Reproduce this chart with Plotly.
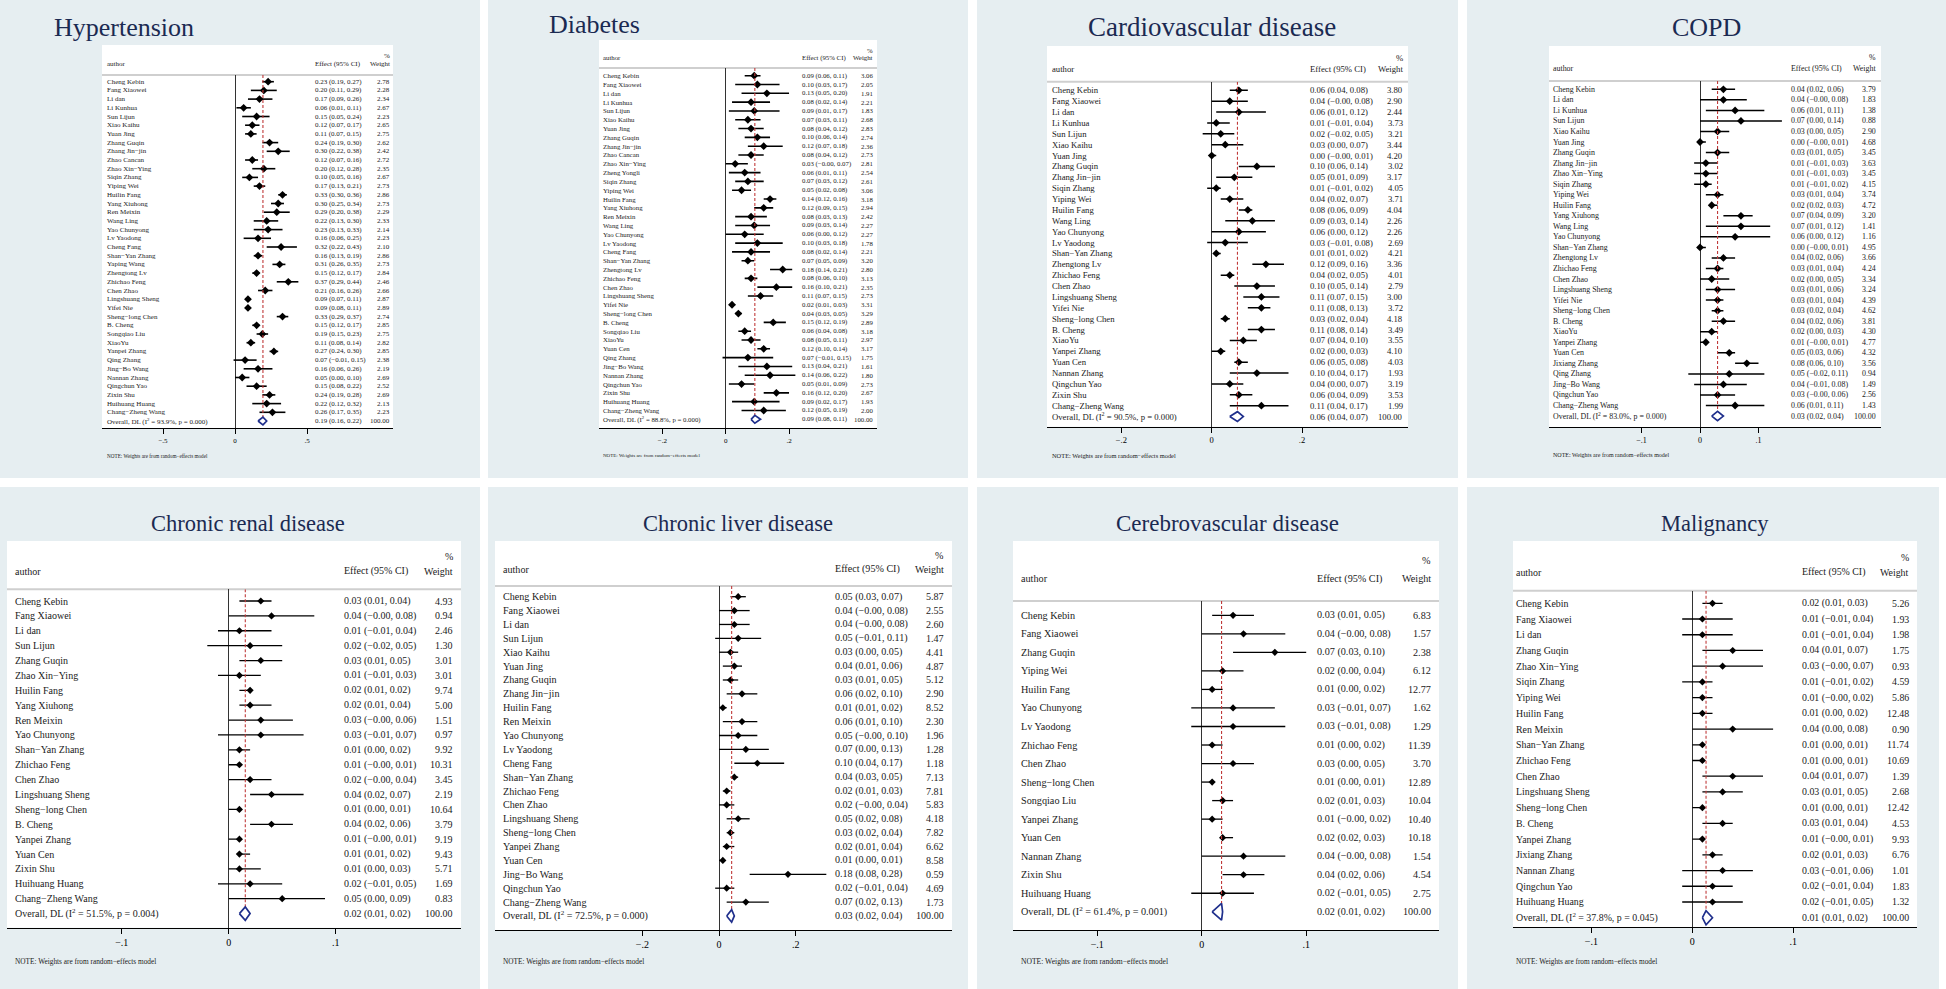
import plotly.graph_objects as go

W, H = 1946, 989
SERIF = "Liberation Serif, Times New Roman, serif"
BG = "#e6eef1"
TITLE_C = "#1b2a52"
DIAMOND_C = "#1f2f8c"
RED = "#c03a3a"
TXT = "#1a1a1a"

# ---------------- data: Hypertension ----------------
HYP_AUTHOR = ["Cheng Kebin", "Fang Xiaowei", "Li dan", "Li Kunhua", "Sun Lijun", "Xiao Kaihu", "Yuan Jing",
              "Zhang Guqin", "Zhang Jin−jin", "Zhao Cancan", "Zhao Xin−Ying", "Siqin Zhang", "Yiping Wei",
              "Huilin Fang", "Yang Xiuhong", "Ren Meixin", "Wang Ling", "Yao Chunyong", "Lv Yaodong",
              "Cheng Fang", "Shan−Yan Zhang", "Yaping Wang", "Zhengtong Lv", "Zhichao Feng", "Chen Zhao",
              "Lingshuang Sheng", "Yifei Nie", "Sheng−long Chen", "B. Cheng", "Songqiao Liu", "XiaoYu",
              "Yanpei Zhang", "Qing Zhang", "Jing−Bo Wang", "Nannan Zhang", "Qingchun Yao", "Zixin Shu",
              "Huihuang Huang", "Chang−Zheng Wang"]
HYP_EST = [0.23, 0.20, 0.17, 0.06, 0.15, 0.12, 0.11, 0.24, 0.30, 0.12, 0.20, 0.10, 0.17, 0.33, 0.30, 0.29,
           0.22, 0.23, 0.16, 0.32, 0.16, 0.31, 0.15, 0.37, 0.21, 0.09, 0.09, 0.33, 0.15, 0.19, 0.11, 0.27,
           0.07, 0.16, 0.05, 0.15, 0.24, 0.22, 0.26]
HYP_LO = [0.19, 0.11, 0.09, 0.01, 0.05, 0.07, 0.07, 0.19, 0.22, 0.07, 0.12, 0.05, 0.13, 0.30, 0.25, 0.20,
          0.13, 0.13, 0.06, 0.22, 0.13, 0.26, 0.12, 0.29, 0.16, 0.07, 0.08, 0.29, 0.12, 0.15, 0.08, 0.24,
          -0.01, 0.06, 0.00, 0.08, 0.19, 0.12, 0.17]
HYP_HI = [0.27, 0.29, 0.26, 0.11, 0.24, 0.17, 0.15, 0.30, 0.38, 0.16, 0.28, 0.16, 0.21, 0.36, 0.34, 0.38,
          0.30, 0.33, 0.25, 0.43, 0.19, 0.35, 0.17, 0.44, 0.26, 0.11, 0.11, 0.37, 0.17, 0.23, 0.14, 0.30,
          0.15, 0.26, 0.10, 0.22, 0.28, 0.32, 0.35]
HYP_WT = [2.78, 2.28, 2.34, 2.67, 2.23, 2.65, 2.75, 2.62, 2.42, 2.72, 2.35, 2.67, 2.73, 2.86, 2.73, 2.29,
          2.33, 2.14, 2.23, 2.10, 2.86, 2.73, 2.84, 2.46, 2.66, 2.87, 2.89, 2.74, 2.85, 2.75, 2.82, 2.85,
          2.38, 2.19, 2.69, 2.52, 2.69, 2.13, 2.23]
HYP_OVERALL = [0.194, 0.16, 0.22]
HYP_HET = [93.9, 0.000]

# ---------------- data: Diabetes ----------------
DIA_AUTHOR = ["Cheng Kebin", "Fang Xiaowei", "Li dan", "Li Kunhua", "Sun Lijun", "Xiao Kaihu", "Yuan Jing",
              "Zhang Guqin", "Zhang Jin−jin", "Zhao Cancan", "Zhao Xin−Ying", "Zheng Yongli", "Siqin Zhang",
              "Yiping Wei", "Huilin Fang", "Yang Xiuhong", "Ren Meixin", "Wang Ling", "Yao Chunyong",
              "Lv Yaodong", "Cheng Fang", "Shan−Yan Zhang", "Zhengtong Lv", "Zhichao Feng", "Chen Zhao",
              "Lingshuang Sheng", "Yifei Nie", "Sheng−long Chen", "B. Cheng", "Songqiao Liu", "XiaoYu",
              "Yuan Cen", "Qing Zhang", "Jing−Bo Wang", "Nannan Zhang", "Qingchun Yao", "Zixin Shu",
              "Huihuang Huang", "Chang−Zheng Wang"]
DIA_EST = [0.09, 0.10, 0.13, 0.08, 0.09, 0.07, 0.08, 0.10, 0.12, 0.08, 0.03, 0.06, 0.07, 0.05, 0.14, 0.12,
           0.08, 0.09, 0.06, 0.10, 0.08, 0.07, 0.18, 0.08, 0.16, 0.11, 0.02, 0.04, 0.15, 0.06, 0.08, 0.12,
           0.07, 0.13, 0.14, 0.05, 0.16, 0.09, 0.12]
DIA_LO = [0.06, 0.03, 0.05, 0.02, 0.01, 0.03, 0.04, 0.06, 0.07, 0.04, -0.00, 0.01, 0.03, 0.02, 0.12, 0.09,
          0.03, 0.03, 0.00, 0.03, 0.02, 0.05, 0.14, 0.06, 0.10, 0.07, 0.01, 0.03, 0.12, 0.04, 0.05, 0.10,
          -0.01, 0.04, 0.06, 0.01, 0.12, 0.02, 0.05]
DIA_HI = [0.11, 0.17, 0.20, 0.14, 0.17, 0.11, 0.12, 0.14, 0.18, 0.12, 0.07, 0.11, 0.12, 0.08, 0.16, 0.15,
          0.13, 0.14, 0.12, 0.18, 0.14, 0.09, 0.21, 0.10, 0.21, 0.15, 0.03, 0.05, 0.19, 0.08, 0.11, 0.14,
          0.15, 0.21, 0.22, 0.09, 0.20, 0.17, 0.19]
DIA_WT = [3.06, 2.05, 1.91, 2.21, 1.83, 2.68, 2.83, 2.74, 2.36, 2.73, 2.81, 2.54, 2.61, 3.06, 3.18, 2.94,
          2.42, 2.27, 2.27, 1.78, 2.21, 3.20, 2.80, 3.13, 2.35, 2.73, 3.31, 3.29, 2.89, 3.18, 2.97, 3.17,
          1.75, 1.61, 1.80, 2.73, 2.67, 1.93, 2.00]
DIA_OVERALL = [0.092, 0.08, 0.11]
DIA_HET = [88.8, 0.000]

# ---------------- data: Cardiovascular disease ----------------
CVD_AUTHOR = ["Cheng Kebin", "Fang Xiaowei", "Li dan", "Li Kunhua", "Sun Lijun", "Xiao Kaihu", "Yuan Jing",
              "Zhang Guqin", "Zhang Jin−jin", "Siqin Zhang", "Yiping Wei", "Huilin Fang", "Wang Ling",
              "Yao Chunyong", "Lv Yaodong", "Shan−Yan Zhang", "Zhengtong Lv", "Zhichao Feng", "Chen Zhao",
              "Lingshuang Sheng", "Yifei Nie", "Sheng−long Chen", "B. Cheng", "XiaoYu", "Yanpei Zhang",
              "Yuan Cen", "Nannan Zhang", "Qingchun Yao", "Zixin Shu", "Chang−Zheng Wang"]
CVD_EST = [0.06, 0.04, 0.06, 0.01, 0.02, 0.03, 0.00, 0.10, 0.05, 0.01, 0.04, 0.08, 0.09, 0.06, 0.03, 0.01,
           0.12, 0.04, 0.10, 0.11, 0.11, 0.03, 0.11, 0.07, 0.02, 0.06, 0.10, 0.04, 0.06, 0.11]
CVD_LO = [0.04, -0.00, 0.01, -0.01, -0.02, 0.00, -0.00, 0.06, 0.01, -0.01, 0.02, 0.06, 0.03, 0.00, -0.01,
          0.01, 0.09, 0.02, 0.05, 0.07, 0.08, 0.02, 0.08, 0.04, 0.00, 0.05, 0.04, 0.00, 0.04, 0.04]
CVD_HI = [0.08, 0.08, 0.12, 0.04, 0.05, 0.07, 0.01, 0.14, 0.09, 0.02, 0.07, 0.09, 0.14, 0.12, 0.08, 0.02,
          0.16, 0.05, 0.14, 0.15, 0.13, 0.04, 0.14, 0.10, 0.03, 0.08, 0.17, 0.07, 0.09, 0.17]
CVD_WT = [3.80, 2.90, 2.44, 3.73, 3.21, 3.44, 4.20, 3.02, 3.17, 4.05, 3.71, 4.04, 2.26, 2.26, 2.69, 4.21,
          3.36, 4.01, 2.79, 3.00, 3.72, 4.18, 3.49, 3.55, 4.10, 4.03, 1.93, 3.19, 3.53, 1.99]
CVD_OVERALL = [0.057, 0.04, 0.07]
CVD_HET = [90.5, 0.000]

# ---------------- data: COPD ----------------
COPD_AUTHOR = ["Cheng Kebin", "Li dan", "Li Kunhua", "Sun Lijun", "Xiao Kaihu", "Yuan Jing", "Zhang Guqin",
               "Zhang Jin−jin", "Zhao Xin−Ying", "Siqin Zhang", "Yiping Wei", "Huilin Fang", "Yang Xiuhong",
               "Wang Ling", "Yao Chunyong", "Shan−Yan Zhang", "Zhengtong Lv", "Zhichao Feng", "Chen Zhao",
               "Lingshuang Sheng", "Yifei Nie", "Sheng−long Chen", "B. Cheng", "XiaoYu", "Yanpei Zhang",
               "Yuan Cen", "Jixiang Zhang", "Qing Zhang", "Jing−Bo Wang", "Qingchun Yao", "Chang−Zheng Wang"]
COPD_EST = [0.04, 0.04, 0.06, 0.07, 0.03, 0.00, 0.03, 0.01, 0.01, 0.01, 0.03, 0.02, 0.07, 0.07, 0.06, 0.00,
            0.04, 0.03, 0.02, 0.03, 0.03, 0.03, 0.04, 0.02, 0.01, 0.05, 0.08, 0.05, 0.04, 0.03, 0.06]
COPD_LO = [0.02, -0.00, 0.01, 0.00, 0.00, -0.00, 0.01, -0.01, -0.01, -0.01, 0.01, 0.02, 0.04, 0.01, 0.00,
           -0.00, 0.02, 0.01, 0.00, 0.01, 0.01, 0.02, 0.02, 0.00, -0.00, 0.03, 0.06, -0.02, -0.01, -0.00, 0.01]
COPD_HI = [0.06, 0.08, 0.11, 0.14, 0.05, 0.01, 0.05, 0.03, 0.03, 0.02, 0.04, 0.03, 0.09, 0.12, 0.12, 0.01,
           0.06, 0.04, 0.05, 0.06, 0.04, 0.04, 0.06, 0.03, 0.01, 0.06, 0.10, 0.11, 0.08, 0.06, 0.11]
COPD_WT = [3.79, 1.83, 1.38, 0.88, 2.90, 4.68, 3.45, 3.63, 3.45, 4.15, 3.74, 4.72, 3.20, 1.41, 1.16, 4.95,
           3.66, 4.24, 3.34, 3.24, 4.39, 4.62, 3.81, 4.30, 4.77, 4.32, 3.56, 0.94, 1.49, 2.56, 1.43]
COPD_OVERALL = [0.030, 0.02, 0.04]
COPD_HET = [83.0, 0.000]

# ---------------- data: Chronic renal disease ----------------
REN_AUTHOR = ["Cheng Kebin", "Fang Xiaowei", "Li dan", "Sun Lijun", "Zhang Guqin", "Zhao Xin−Ying",
              "Huilin Fang", "Yang Xiuhong", "Ren Meixin", "Yao Chunyong", "Shan−Yan Zhang", "Zhichao Feng",
              "Chen Zhao", "Lingshuang Sheng", "Sheng−long Chen", "B. Cheng", "Yanpei Zhang", "Yuan Cen",
              "Zixin Shu", "Huihuang Huang", "Chang−Zheng Wang"]
REN_EST = [0.03, 0.04, 0.01, 0.02, 0.03, 0.01, 0.02, 0.02, 0.03, 0.03, 0.01, 0.01, 0.02, 0.04, 0.01, 0.04,
           0.01, 0.01, 0.01, 0.02, 0.05]
REN_LO = [0.01, -0.00, -0.01, -0.02, 0.01, -0.01, 0.01, 0.01, -0.00, -0.01, 0.00, -0.00, -0.00, 0.02, 0.00,
          0.02, -0.00, 0.01, 0.00, -0.01, 0.00]
REN_HI = [0.04, 0.08, 0.04, 0.05, 0.05, 0.03, 0.02, 0.04, 0.06, 0.07, 0.02, 0.01, 0.04, 0.07, 0.01, 0.06,
          0.01, 0.02, 0.03, 0.05, 0.09]
REN_WT = [4.93, 0.94, 2.46, 1.30, 3.01, 3.01, 9.74, 5.00, 1.51, 0.97, 9.92, 10.31, 3.45, 2.19, 10.64, 3.79,
          9.19, 9.43, 5.71, 1.69, 0.83]
REN_OVERALL = [0.0155, 0.01, 0.02]
REN_HET = [51.5, 0.004]

# ---------------- data: Chronic liver disease ----------------
LIV_AUTHOR = ["Cheng Kebin", "Fang Xiaowei", "Li dan", "Sun Lijun", "Xiao Kaihu", "Yuan Jing", "Zhang Guqin",
              "Zhang Jin−jin", "Huilin Fang", "Ren Meixin", "Yao Chunyong", "Lv Yaodong", "Cheng Fang",
              "Shan−Yan Zhang", "Zhichao Feng", "Chen Zhao", "Lingshuang Sheng", "Sheng−long Chen",
              "Yanpei Zhang", "Yuan Cen", "Jing−Bo Wang", "Qingchun Yao", "Chang−Zheng Wang"]
LIV_EST = [0.05, 0.04, 0.04, 0.05, 0.03, 0.04, 0.03, 0.06, 0.01, 0.06, 0.05, 0.07, 0.10, 0.04, 0.02, 0.02,
           0.05, 0.03, 0.02, 0.01, 0.18, 0.02, 0.07]
LIV_LO = [0.03, -0.00, -0.00, -0.01, 0.00, 0.01, 0.01, 0.02, 0.01, 0.01, -0.00, 0.00, 0.04, 0.03, 0.01,
          -0.00, 0.02, 0.02, 0.01, 0.00, 0.08, -0.01, 0.02]
LIV_HI = [0.07, 0.08, 0.08, 0.11, 0.05, 0.06, 0.05, 0.10, 0.02, 0.10, 0.10, 0.13, 0.17, 0.05, 0.03, 0.04,
          0.08, 0.04, 0.04, 0.01, 0.28, 0.04, 0.13]
LIV_WT = [5.87, 2.55, 2.60, 1.47, 4.41, 4.87, 5.12, 2.90, 8.52, 2.30, 1.96, 1.28, 1.18, 7.13, 7.81, 5.83,
          4.18, 7.82, 6.62, 8.58, 0.59, 4.69, 1.73]
LIV_OVERALL = [0.033, 0.02, 0.04]
LIV_HET = [72.5, 0.000]

# ---------------- data: Cerebrovascular disease ----------------
CER_AUTHOR = ["Cheng Kebin", "Fang Xiaowei", "Zhang Guqin", "Yiping Wei", "Huilin Fang", "Yao Chunyong",
              "Lv Yaodong", "Zhichao Feng", "Chen Zhao", "Sheng−long Chen", "Songqiao Liu", "Yanpei Zhang",
              "Yuan Cen", "Nannan Zhang", "Zixin Shu", "Huihuang Huang"]
CER_EST = [0.03, 0.04, 0.07, 0.02, 0.01, 0.03, 0.03, 0.01, 0.03, 0.01, 0.02, 0.01, 0.02, 0.04, 0.04, 0.02]
CER_LO = [0.01, -0.00, 0.03, 0.00, 0.00, -0.01, -0.01, 0.00, 0.00, 0.00, 0.01, -0.00, 0.02, -0.00, 0.02, -0.01]
CER_HI = [0.05, 0.08, 0.10, 0.04, 0.02, 0.07, 0.08, 0.02, 0.05, 0.01, 0.03, 0.02, 0.03, 0.08, 0.06, 0.05]
CER_WT = [6.83, 1.57, 2.38, 6.12, 12.77, 1.62, 1.29, 11.39, 3.70, 12.89, 10.04, 10.40, 10.18, 1.54, 4.54, 2.75]
CER_OVERALL = [0.019, 0.01, 0.02]
CER_HET = [61.4, 0.001]

# ---------------- data: Malignancy ----------------
MAL_AUTHOR = ["Cheng Kebin", "Fang Xiaowei", "Li dan", "Zhang Guqin", "Zhao Xin−Ying", "Siqin Zhang",
              "Yiping Wei", "Huilin Fang", "Ren Meixin", "Shan−Yan Zhang", "Zhichao Feng", "Chen Zhao",
              "Lingshuang Sheng", "Sheng−long Chen", "B. Cheng", "Yanpei Zhang", "Jixiang Zhang",
              "Nannan Zhang", "Qingchun Yao", "Huihuang Huang"]
MAL_EST = [0.02, 0.01, 0.01, 0.04, 0.03, 0.01, 0.01, 0.01, 0.04, 0.01, 0.01, 0.04, 0.03, 0.01, 0.03, 0.01,
           0.02, 0.03, 0.02, 0.02]
MAL_LO = [0.01, -0.01, -0.01, 0.01, -0.00, -0.01, -0.00, 0.00, 0.00, 0.00, 0.00, 0.01, 0.01, 0.00, 0.01,
          -0.00, 0.01, -0.01, -0.01, -0.01]
MAL_HI = [0.03, 0.04, 0.04, 0.07, 0.07, 0.02, 0.02, 0.02, 0.08, 0.01, 0.01, 0.07, 0.05, 0.01, 0.04, 0.01,
          0.03, 0.06, 0.04, 0.05]
MAL_WT = [5.26, 1.93, 1.98, 1.75, 0.93, 4.59, 5.86, 12.48, 0.90, 11.74, 10.69, 1.39, 2.68, 12.42, 4.53, 9.93,
          6.76, 1.01, 1.83, 1.32]
MAL_OVERALL = [0.0136, 0.01, 0.02]
MAL_HET = [37.8, 0.045]

# --- geometry of each Stata panel (pixel positions measured on the page)
PANELS = [
    dict(title="Hypertension", data=(HYP_AUTHOR, HYP_EST, HYP_LO, HYP_HI, HYP_WT, HYP_OVERALL, HYP_HET),
         box=(0, 0, 480, 478), white=(102, 45, 393), head=75, axis=428, row0=81.7, pitch=8.7,
         x0=235, scale=144, ticks=[-0.5, 0, 0.5], ticktext=["−.5", "0", ".5"],
         tx=124, ty=27, tfs=26, fs=7.0, hy=64, pcty=56, ax=107, ex=315, wx=390, ny=456, nfs=5.2,
         tickfs=7, ms=6, ciw=1.6),
    dict(title="Diabetes", data=(DIA_AUTHOR, DIA_EST, DIA_LO, DIA_HI, DIA_WT, DIA_OVERALL, DIA_HET),
         box=(488, 0, 968, 478), white=(599, 40, 877), head=68, axis=428.3, row0=75.7, pitch=8.81,
         x0=725.7, scale=316.7, ticks=[-0.2, 0, 0.2], ticktext=["−.2", "0", ".2"],
         tx=594, ty=25, tfs=26, fs=6.8, hy=58, pcty=50, ax=603, ex=801.7, wx=872.7, ny=455.7, nfs=5.0,
         tickfs=7, ms=6, ciw=1.6),
    dict(title="Cardiovascular disease", data=(CVD_AUTHOR, CVD_EST, CVD_LO, CVD_HI, CVD_WT, CVD_OVERALL, CVD_HET),
         box=(977, 0, 1458, 478), white=(1047, 46, 1408), head=81.7, axis=426.7, row0=90.3, pitch=10.875,
         x0=1211.7, scale=451.7, ticks=[-0.2, 0, 0.2], ticktext=["−.2", "0", ".2"],
         tx=1212, ty=27, tfs=27, fs=8.7, hy=69, pcty=57.7, ax=1051.7, ex=1310, wx=1403.3, ny=455, nfs=6.4,
         tickfs=8.5, ms=6, ciw=1.5),
    dict(title="COPD", data=(COPD_AUTHOR, COPD_EST, COPD_LO, COPD_HI, COPD_WT, COPD_OVERALL, COPD_HET),
         box=(1467, 0, 1946, 478), white=(1549, 46, 1881), head=81, axis=427.3, row0=89.3, pitch=10.54,
         x0=1700, scale=585, ticks=[-0.1, 0, 0.1], ticktext=["−.1", "0", ".1"],
         tx=1706, ty=27, tfs=26, fs=7.9, hy=68.3, pcty=57.7, ax=1552.7, ex=1790.7, wx=1876, ny=455, nfs=6.0,
         tickfs=8, ms=6, ciw=1.5),
    dict(title="Chronic renal disease", data=(REN_AUTHOR, REN_EST, REN_LO, REN_HI, REN_WT, REN_OVERALL, REN_HET),
         box=(0, 487, 480, 989), white=(7, 541, 461), head=589.3, axis=927.7, row0=601, pitch=14.885,
         x0=228.7, scale=1070, ticks=[-0.1, 0, 0.1], ticktext=["−.1", "0", ".1"],
         tx=247.5, ty=523, tfs=22.5, fs=10, hy=571, pcty=556, ax=15, ex=344.3, wx=453.3, ny=961.3, nfs=7.3,
         tickfs=10, ms=5.5, ciw=1.3),
    dict(title="Chronic liver disease", data=(LIV_AUTHOR, LIV_EST, LIV_LO, LIV_HI, LIV_WT, LIV_OVERALL, LIV_HET),
         box=(488, 487, 968, 989), white=(495, 541, 952), head=586, axis=930, row0=596.7, pitch=13.88,
         x0=719, scale=383.3, ticks=[-0.2, 0, 0.2], ticktext=["−.2", "0", ".2"],
         tx=738, ty=523, tfs=22.5, fs=10.1, hy=569.3, pcty=555, ax=503, ex=835, wx=944, ny=961.7, nfs=7.3,
         tickfs=10, ms=5.5, ciw=1.3),
    dict(title="Cerebrovascular disease", data=(CER_AUTHOR, CER_EST, CER_LO, CER_HI, CER_WT, CER_OVERALL, CER_HET),
         box=(977, 487, 1458, 989), white=(1013, 541, 1439), head=601, axis=930, row0=615.3, pitch=18.53,
         x0=1201.7, scale=1045, ticks=[-0.1, 0, 0.1], ticktext=["−.1", "0", ".1"],
         tx=1227.5, ty=523, tfs=23, fs=10.2, hy=578.7, pcty=560, ax=1020.7, ex=1316.7, wx=1430.7, ny=961.7,
         nfs=7.6, tickfs=10, ms=5.5, ciw=1.3),
    dict(title="Malignancy", data=(MAL_AUTHOR, MAL_EST, MAL_LO, MAL_HI, MAL_WT, MAL_OVERALL, MAL_HET),
         box=(1467, 487, 1939, 989), white=(1513, 541, 1917), head=590.7, axis=927.3, row0=603.3, pitch=15.72,
         x0=1692.3, scale=1010, ticks=[-0.1, 0, 0.1], ticktext=["−.1", "0", ".1"],
         tx=1714.8, ty=523, tfs=22.5, fs=9.9, hy=572.3, pcty=557.3, ax=1516, ex=1801.7, wx=1909, ny=961.7,
         nfs=7.3, tickfs=10, ms=5.5, ciw=1.3),
]


def fx(px):
    return px / W


def fy(py):
    return 1 - py / H


def fmt(v):
    return f"{v:.2f}".replace("-", "−")


fig = go.Figure()
shapes, annos, axes = [], [], {}

for i, p in enumerate(PANELS):
    n = "" if i == 0 else str(i + 1)
    xref, yref = "x" + n, "y" + n
    names, est, lo, hi, wt, overall, het = p["data"]
    N = len(est)
    rows = list(range(1, N + 1))
    r_ov = N + 1
    ov, ov_lo, ov_hi = overall
    L, T, R = p["white"]
    v_bot = 1 + (p["axis"] - p["row0"]) / p["pitch"]
    v_top = 1 + (p["head"] - p["row0"]) / p["pitch"]

    # --- panel background, white plot region, header rule
    bx0, by0, bx1, by1 = p["box"]
    shapes.append(dict(type="rect", xref="paper", yref="paper", x0=fx(bx0), x1=fx(bx1), y0=fy(by1), y1=fy(by0),
                       fillcolor=BG, line_width=0, layer="below"))
    shapes.append(dict(type="rect", xref="paper", yref="paper", x0=fx(L), x1=fx(R), y0=fy(p["axis"]), y1=fy(T),
                       fillcolor="white", line_width=0, layer="below"))
    shapes.append(dict(type="line", xref="paper", yref="paper", x0=fx(L), x1=fx(R), y0=fy(p["head"]),
                       y1=fy(p["head"]), line=dict(color="#cfcfcf", width=2), layer="below"))

    # --- confidence intervals
    xs, ys = [], []
    for a, b, r in zip(lo, hi, rows):
        xs += [a, b, None]
        ys += [r, r, None]
    fig.add_trace(go.Scatter(x=xs, y=ys, mode="lines", line=dict(color="black", width=p["ciw"]),
                             xaxis=xref, yaxis=yref, hoverinfo="skip", showlegend=False))
    # --- point estimates
    fig.add_trace(go.Scatter(x=est, y=rows, mode="markers", text=names,
                             marker=dict(symbol="diamond", size=p["ms"], color="black"),
                             xaxis=xref, yaxis=yref, showlegend=False))
    # --- overall line + diamond
    fig.add_trace(go.Scatter(x=[ov, ov], y=[v_top, r_ov - 0.45], mode="lines",
                             line=dict(color=RED, width=1.1, dash="3px,2px"),
                             xaxis=xref, yaxis=yref, hoverinfo="skip", showlegend=False))
    fig.add_trace(go.Scatter(x=[ov_lo, ov, ov_hi, ov, ov_lo], y=[r_ov, r_ov - 0.45, r_ov, r_ov + 0.45, r_ov],
                             mode="lines", line=dict(color=DIAMOND_C, width=1.7),
                             xaxis=xref, yaxis=yref, hoverinfo="skip", showlegend=False))

    axes["xaxis" + n] = dict(domain=[fx(L), fx(R)], range=[(L - p["x0"]) / p["scale"], (R - p["x0"]) / p["scale"]],
                             anchor=yref, showline=True, linecolor="black", linewidth=1.3,
                             ticks="outside", ticklen=5, tickwidth=1.3, tickcolor="black",
                             tickvals=p["ticks"], ticktext=p["ticktext"],
                             tickfont=dict(family=SERIF, size=p["tickfs"], color="black"),
                             showgrid=False, zeroline=True, zerolinecolor="#333333", zerolinewidth=1.3,
                             fixedrange=True)
    axes["yaxis" + n] = dict(domain=[fy(p["axis"]), fy(p["head"])], range=[v_bot, v_top], anchor=xref,
                             visible=False, fixedrange=True)

    font = dict(family=SERIF, size=p["fs"], color=TXT)
    base = dict(showarrow=False, borderpad=0, borderwidth=0, yanchor="middle", font=font)

    # --- title, header, note
    annos.append(dict(base, x=fx(p["tx"]), y=fy(p["ty"]), xref="paper", yref="paper", xanchor="center",
                      text=p["title"], font=dict(family=SERIF, size=p["tfs"], color=TITLE_C)))
    annos.append(dict(base, x=fx(p["ax"]), y=fy(p["hy"]), xref="paper", yref="paper", xanchor="left", text="author"))
    annos.append(dict(base, x=fx(p["ex"]), y=fy(p["hy"]), xref="paper", yref="paper", xanchor="left",
                      text="Effect (95% CI)"))
    annos.append(dict(base, x=fx(p["wx"]), y=fy(p["hy"]), xref="paper", yref="paper", xanchor="right", text="Weight"))
    annos.append(dict(base, x=fx(p["wx"]), y=fy(p["pcty"]), xref="paper", yref="paper", xanchor="right", text="%"))
    annos.append(dict(base, x=fx(p["ax"]), y=fy(p["ny"]), xref="paper", yref="paper", xanchor="left",
                      text="NOTE: Weights are from random−effects model",
                      font=dict(family=SERIF, size=p["nfs"], color=TXT)))

    # --- table rows
    for name, e, a, b, w, r in zip(names, est, lo, hi, wt, rows):
        annos.append(dict(base, x=fx(p["ax"]), y=r, xref="paper", yref=yref, xanchor="left", text=name))
        annos.append(dict(base, x=fx(p["ex"]), y=r, xref="paper", yref=yref, xanchor="left",
                          text=f"{fmt(e)} ({fmt(a)}, {fmt(b)})"))
        annos.append(dict(base, x=fx(p["wx"]), y=r, xref="paper", yref=yref, xanchor="right", text=f"{w:.2f}"))
    i2, pv = het
    annos.append(dict(base, x=fx(p["ax"]), y=r_ov, xref="paper", yref=yref, xanchor="left",
                      text=f"Overall, DL (I<sup>2</sup> = {i2:.1f}%, p = {pv:.3f})"))
    annos.append(dict(base, x=fx(p["ex"]), y=r_ov, xref="paper", yref=yref, xanchor="left",
                      text=f"{fmt(ov)} ({fmt(ov_lo)}, {fmt(ov_hi)})"))
    annos.append(dict(base, x=fx(p["wx"]), y=r_ov, xref="paper", yref=yref, xanchor="right", text="100.00"))

fig.update_layout(
    width=W, height=H,
    margin=dict(l=0, r=0, t=0, b=0),
    paper_bgcolor="white",
    plot_bgcolor="rgba(0,0,0,0)",
    showlegend=False,
    shapes=shapes,
    annotations=annos,
    **axes,
)

# page body has a default 8px margin; drop it so the figure sits at the window origin
fig.write_html("out.html", config={"displayModeBar": False},
               post_script="document.body.style.margin='0';")
